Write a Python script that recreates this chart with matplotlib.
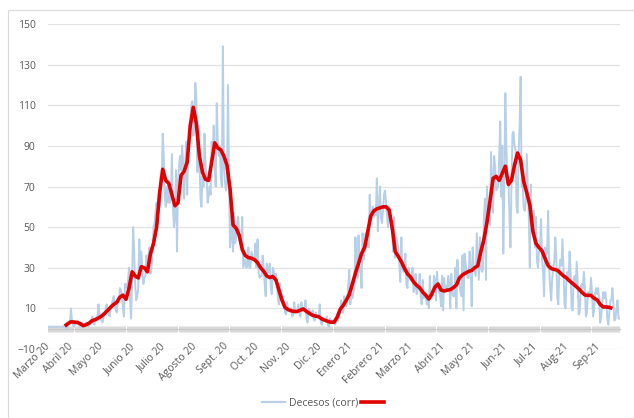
import matplotlib
matplotlib.use('Agg')
import matplotlib.pyplot as plt
import matplotlib.dates as mdates
import pandas as pd
from matplotlib.patches import Rectangle
from matplotlib.lines import Line2D

plt.rcParams['font.family'] = ['Open Sans', 'DejaVu Sans']

# daily deaths, one row per week, from 2020-03-10
start = '2020-03-10'
decesos = [
    1, 1, 1, 1, 1, 1, 1,
    1, 1, 1, 1, 1, 1, 1,
    1, 1, 2, 1, 0, 2, 3,
    3, 10, 4, 2, 1, 2, 3,
    3, 4, 2, 1, 2, 3, 2,
    2, 1, 3, 2, 1, 2, 4,
    4, 6, 3, 2, 5, 4, 6,
    12, 7, 5, 4, 3, 6, 7,
    10, 12, 9, 7, 6, 11, 12,
    14, 16, 12, 9, 8, 15, 14,
    20, 19, 16, 10, 6, 22, 22,
    20, 24, 30, 14, 5, 25, 50,
    38, 22, 14, 16, 20, 44, 28,
    38, 30, 22, 25, 26, 36, 33,
    36, 40, 27, 30, 38, 50, 52,
    58, 62, 55, 64, 60, 75, 74,
    96, 85, 65, 60, 70, 62, 73,
    62, 64, 86, 60, 50, 55, 78,
    38, 72, 80, 85, 78, 90, 82,
    64, 80, 92, 66, 88, 95, 100,
    110, 112, 95, 100, 121, 113, 77,
    100, 85, 64, 60, 75, 70, 96,
    80, 75, 62, 65, 70, 66, 92,
    85, 100, 80, 70, 111, 92, 85,
    90, 75, 70, 139, 80, 72, 68,
    72, 120, 75, 40, 55, 45, 38,
    57, 42, 45, 52, 55, 47, 45,
    40, 55, 30, 32, 34, 30, 31,
    40, 30, 30, 38, 36, 34, 34,
    42, 30, 44, 28, 25, 26, 26,
    36, 30, 22, 16, 32, 28, 28,
    32, 20, 17, 30, 28, 25, 27,
    22, 15, 12, 22, 16, 17, 15,
    13, 8, 7, 13, 9, 10, 10,
    10, 6, 7, 13, 8, 8, 8,
    12, 8, 6, 13, 9, 10, 9,
    14, 5, 3, 10, 9, 8, 7,
    9, 5, 4, 8, 6, 6, 6,
    12, 3, 2, 5, 4, 4, 4,
    6, 2, 1, 5, 4, 4, 3,
    4, 2, 3, 5, 4, 6, 8,
    14, 10, 8, 16, 12, 11, 14,
    22, 29, 12, 20, 15, 18, 20,
    45, 30, 25, 46, 28, 30, 20,
    47, 34, 38, 47, 40, 42, 40,
    66, 53, 54, 60, 55, 58, 56,
    74, 48, 60, 70, 55, 52, 58,
    66, 68, 62, 55, 50, 60, 59,
    49, 50, 38, 55, 35, 45, 42,
    40, 32, 23, 45, 30, 28, 30,
    37, 22, 20, 30, 25, 24, 24,
    30, 18, 20, 27, 17, 19, 20,
    27, 16, 12, 24, 15, 16, 16,
    12, 14, 10, 26, 15, 16, 16,
    26, 24, 14, 28, 20, 18, 17,
    11, 26, 9, 25, 18, 21, 20,
    26, 22, 10, 27, 18, 16, 16,
    30, 10, 34, 24, 22, 18, 16,
    36, 9, 37, 32, 28, 25, 25,
    38, 30, 11, 40, 30, 28, 26,
    47, 35, 24, 45, 30, 28, 29,
    55, 64, 24, 70, 55, 52, 51,
    87, 72, 57, 85, 80, 68, 69,
    70, 85, 102, 65, 90, 37, 70,
    116, 90, 72, 75, 55, 40, 70,
    96, 97, 90, 88, 60, 57, 86,
    100, 124, 70, 72, 60, 58, 62,
    86, 70, 55, 30, 71, 50, 58,
    58, 40, 55, 34, 30, 38, 39,
    54, 34, 28, 16, 40, 35, 38,
    58, 30, 20, 14, 25, 30, 33,
    45, 35, 15, 12, 30, 34, 31,
    44, 30, 12, 10, 26, 28, 25,
    38, 28, 10, 9, 24, 26, 21,
    33, 22, 7, 8, 21, 22, 20,
    28, 20, 6, 8, 18, 18, 17,
    25, 18, 6, 9, 17, 20, 17,
    20, 14, 3, 6, 12, 18, 15,
    18, 14, 5, 2, 8, 14, 14,
    20, 12, 4, 5, 10, 14, 5,
    5,
]

# 7-day average, read every 3 days from 2020-03-26
media_start = '2020-03-26'
media = [
    1.3, 2.5, 3.4, 3.3, 3.1, 2.5, 1.5, 2, 2.8, 4,
    4.5, 5.3, 6.2, 7.5, 9, 10.6, 12, 13, 15.5, 16.5,
    14.5, 20, 28, 26, 25, 30.5, 30, 28, 37, 42,
    50, 67, 78.5, 73, 71.5, 66, 60.5, 62, 75.5, 77.5,
    82, 100, 109, 101, 85, 77, 73.5, 73, 82, 91.5,
    89, 88, 85, 80.5, 69, 51, 49.5, 46, 39, 36,
    35, 34.7, 34, 32.5, 30, 28.3, 26, 25.2, 25.7, 24,
    19, 14, 10.4, 9.4, 8.8, 8.5, 8.5, 9.2, 9.7, 8.5,
    7.5, 6.6, 6.2, 5.9, 4.8, 4.2, 3.6, 3.2, 3.2, 5.6,
    9.5, 11.5, 14, 17, 22, 27.4, 32, 37, 40, 47.5,
    55.5, 58, 59, 59.5, 60, 60, 58.5, 50, 38, 35.6,
    33, 29.8, 27, 25.5, 23, 21.4, 20.2, 18, 16.5, 14.6,
    17.2, 20.5, 22, 19, 18.6, 19, 19.2, 20.2, 21.5, 25,
    26.5, 27.4, 28.2, 28.7, 30, 31, 38, 44, 52.5, 63,
    74, 75, 73, 76.5, 80, 71, 73, 80.5, 86.5, 83,
    72.5, 67, 61, 48, 42, 40, 38.3, 34.5, 31, 29.6,
    29.2, 28.8, 27.4, 26, 25, 23.5, 22.3, 21, 19.6, 18,
    16.6, 16.4, 16.4, 15, 14.2, 12, 10.7, 10.7, 10.5, 10,
]

mes_fechas = ['2020-03-10', '2020-04-01', '2020-05-01', '2020-06-01', '2020-07-01',
              '2020-08-01', '2020-09-01', '2020-10-01', '2020-11-01', '2020-12-01',
              '2021-01-01', '2021-02-01', '2021-03-01', '2021-04-01', '2021-05-01',
              '2021-06-01', '2021-07-01', '2021-08-01', '2021-09-01']
mes_labels = ['Marzo 20', 'Abril 20', 'Mayo 20', 'Junio 20', 'Julio 20',
              'Agosto 20', 'Sept. 20', 'Oct. 20', 'Nov. 20', 'Dic. 20',
              'Enero 21', 'Febrero 21', 'Marzo 21', 'Abril 21', 'Mayo 21',
              'Jun-21', 'Jul-21', 'Aug-21', 'Sep-21']

x_dias = mdates.date2num(pd.date_range(start, periods=len(decesos), freq='D'))
x_media = mdates.date2num(pd.date_range(media_start, periods=len(media), freq='3D'))
x_meses = mdates.date2num(pd.to_datetime(mes_fechas))

gris = '#595959'
azul = '#b7d0e8'
rojo = '#e00000'

fig = plt.figure(figsize=(6.34, 4.18), dpi=100)
ax = fig.add_axes([0.0757, 0.165, 0.9023, 0.7776])

ax.plot(x_dias, decesos, color=azul, lw=1.4, zorder=3)
ax.plot(x_media, media, color=rojo, lw=2.6, solid_capstyle='butt', zorder=4)

ax.set_ylim(-10, 150)
ax.set_yticks(range(-10, 151, 20))
ax.set_xlim(x_dias[0] - 0.5, x_dias[-1] + 0.5)
ax.grid(axis='y', color='#e2e2e2', lw=0.9)
ax.set_axisbelow(True)
for s in ['top', 'right', 'left']:
    ax.spines[s].set_visible(False)
ax.spines['bottom'].set_position(('data', 0))
ax.spines['bottom'].set_color('#c8c8c8')

# one tick mark per day on the zero line
ax.set_xticks(x_dias - 0.5)
ax.tick_params(axis='x', length=5, width=0.5, direction='inout', color='#c8c8c8',
               labelbottom=False)
ax.tick_params(axis='y', length=0, pad=9, labelsize=7.5, labelcolor=gris)

sec = ax.secondary_xaxis(0)
sec.set_xticks(x_meses)
sec.set_xticklabels(mes_labels)
sec.tick_params(length=0, pad=-3, labelsize=7.5, labelcolor=gris)
for lab in sec.get_xticklabels():
    lab.set_rotation(45)
    lab.set_ha('right')
    lab.set_va('center')
    lab.set_rotation_mode('anchor')
sec.spines['bottom'].set_visible(False)

handles = [Line2D([], [], color=azul, lw=1.6), Line2D([], [], color=rojo, lw=2.6)]
fig.legend(handles, ['Decesos (corr)', ''], loc='center', bbox_to_anchor=(0.513, 0.036),
           ncol=2, frameon=False, fontsize=7.5, labelcolor=gris, handlelength=2.2,
           columnspacing=0.3, handletextpad=0.4)

fig.patches.append(Rectangle((8 / 634, -0.05), 1.0, 1.026, transform=fig.transFigure,
                             fill=False, ec='#d9d9d9', lw=0.8))

fig.savefig('out.png', dpi=100)
